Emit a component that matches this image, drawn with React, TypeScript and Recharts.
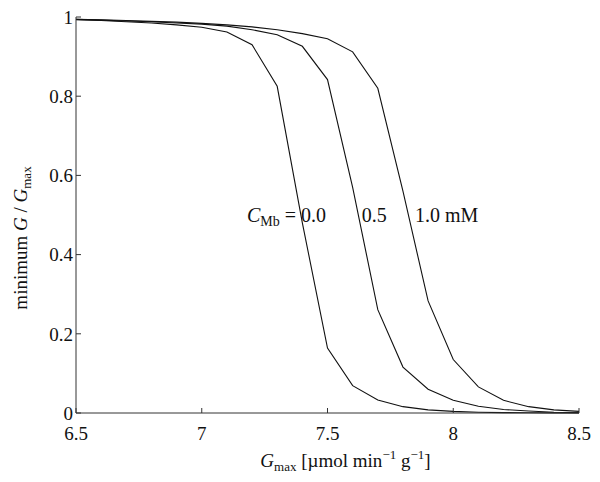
import { Line, LineChart, ReferenceDot, XAxis, YAxis } from 'recharts';

const gmax = [6.5, 6.6, 6.7, 6.8, 6.9, 7.0, 7.1, 7.2, 7.3, 7.4, 7.5, 7.6, 7.7, 7.8, 7.9, 8.0, 8.1, 8.2, 8.3, 8.4, 8.5];
const cmb00 = [0.993, 0.991, 0.988, 0.985, 0.98, 0.974, 0.962, 0.93, 0.825, 0.48, 0.164, 0.069, 0.033, 0.016, 0.008, 0.004, 0.002, 0.001, 0.0005, 0.0002, 0.0001];
const cmb05 = [0.994, 0.992, 0.99, 0.988, 0.985, 0.982, 0.977, 0.968, 0.955, 0.926, 0.842, 0.57, 0.261, 0.116, 0.06, 0.032, 0.017, 0.009, 0.005, 0.002, 0.001];
const cmb10 = [0.994, 0.993, 0.991, 0.989, 0.987, 0.984, 0.98, 0.975, 0.968, 0.958, 0.945, 0.912, 0.82, 0.56, 0.283, 0.135, 0.066, 0.032, 0.016, 0.008, 0.004];

const xTicks = [6.5, 7, 7.5, 8, 8.5];
const yTicks = [0, 0.2, 0.4, 0.6, 0.8, 1];

// where the C_Mb labels sit, in data units
const annotations = [
  { x: 7.18, y: 0.482, kind: 'lead', text: '0.0' },
  { x: 7.636, y: 0.482, kind: 'plain', text: '0.5' },
  { x: 7.848, y: 0.482, kind: 'plain', text: '1.0 mM' },
];

const rows = gmax.map((g, i) => ({ g, c0: cmb00[i], c5: cmb05[i], c10: cmb10[i] }));

const FONT = '"Liberation Serif", "Times New Roman", serif';
const AXIS = '#333';
const tickStyle = { fontSize: 19, fill: '#111', fontFamily: FONT };

function XLabel({ viewBox }: any) {
  const cx = viewBox.x + viewBox.width / 2 + 18;
  const by = viewBox.y + 54;
  return (
    <text x={cx} y={by} textAnchor="middle" fontFamily={FONT} fontSize={19} fill="#111">
      <tspan fontStyle="italic">G</tspan>
      <tspan fontSize={13} dy={4}>max</tspan>
      <tspan dy={-4}>{'  [µmol min'}</tspan>
      <tspan fontSize={13} dy={-8}>−1</tspan>
      <tspan dy={8}>{' g'}</tspan>
      <tspan fontSize={13} dy={-8}>−1</tspan>
      <tspan dy={8}>]</tspan>
    </text>
  );
}

function YLabel({ viewBox }: any) {
  const bx = viewBox.x + 27;
  const cy = viewBox.y + 221;
  return (
    <text x={bx} y={cy} textAnchor="middle" transform={`rotate(-90, ${bx}, ${cy})`} fontFamily={FONT} fontSize={19} fill="#111">
      <tspan>minimum </tspan>
      <tspan fontStyle="italic">G</tspan>
      <tspan>{' / '}</tspan>
      <tspan fontStyle="italic">G</tspan>
      <tspan fontSize={13} dy={4}>max</tspan>
    </text>
  );
}

function annoShape(kind: string, text: string) {
  return (p: any) => (
    <text x={p.cx} y={p.cy} fontFamily={FONT} fontSize={20} fill="#111">
      {kind === 'lead' ? (
        <>
          <tspan fontStyle="italic">C</tspan>
          <tspan fontSize={14} dy={4}>Mb</tspan>
          <tspan dy={-4}>{' = ' + text}</tspan>
        </>
      ) : (
        text
      )}
    </text>
  );
}

export default function App() {
  return (
    <div style={{ position: 'absolute', left: 0, top: 0, background: '#fff', fontFamily: FONT }}>
      <style>{`.recharts-cartesian-axis-tick-value, .recharts-text { font-family: ${FONT}; }`}</style>
      <LineChart width={600} height={482} data={rows} margin={{ top: 17, right: 21, bottom: 0, left: 0 }} style={{ fontFamily: FONT }}>
        <XAxis
          dataKey="g"
          type="number"
          domain={[6.5, 8.5]}
          ticks={xTicks}
          height={69}
          stroke={AXIS}
          tickSize={-5}
          tickMargin={19}
          tick={tickStyle}
          label={<XLabel />}
        />
        <XAxis
          xAxisId="top"
          orientation="top"
          type="number"
          domain={[6.5, 8.5]}
          ticks={xTicks}
          height={0}
          stroke={AXIS}
          tickSize={-5}
          tick={false}
          allowDataOverflow
        />
        <YAxis
          type="number"
          domain={[0, 1]}
          ticks={yTicks}
          width={76}
          stroke={AXIS}
          tickSize={-5}
          tickMargin={8}
          tick={tickStyle}
          label={<YLabel />}
        />
        <YAxis
          yAxisId="right"
          orientation="right"
          type="number"
          domain={[0, 1]}
          ticks={yTicks}
          width={0}
          stroke={AXIS}
          tickSize={-5}
          tick={false}
          allowDataOverflow
        />
        <Line dataKey="c0" type="linear" stroke="#111" strokeWidth={1.1} dot={false} isAnimationActive={false} />
        <Line dataKey="c5" type="linear" stroke="#111" strokeWidth={1.1} dot={false} isAnimationActive={false} />
        <Line dataKey="c10" type="linear" stroke="#111" strokeWidth={1.1} dot={false} isAnimationActive={false} />
        {annotations.map((a) => (
          <ReferenceDot key={a.text} x={a.x} y={a.y} r={0} shape={annoShape(a.kind, a.text)} />
        ))}
      </LineChart>
    </div>
  );
}
